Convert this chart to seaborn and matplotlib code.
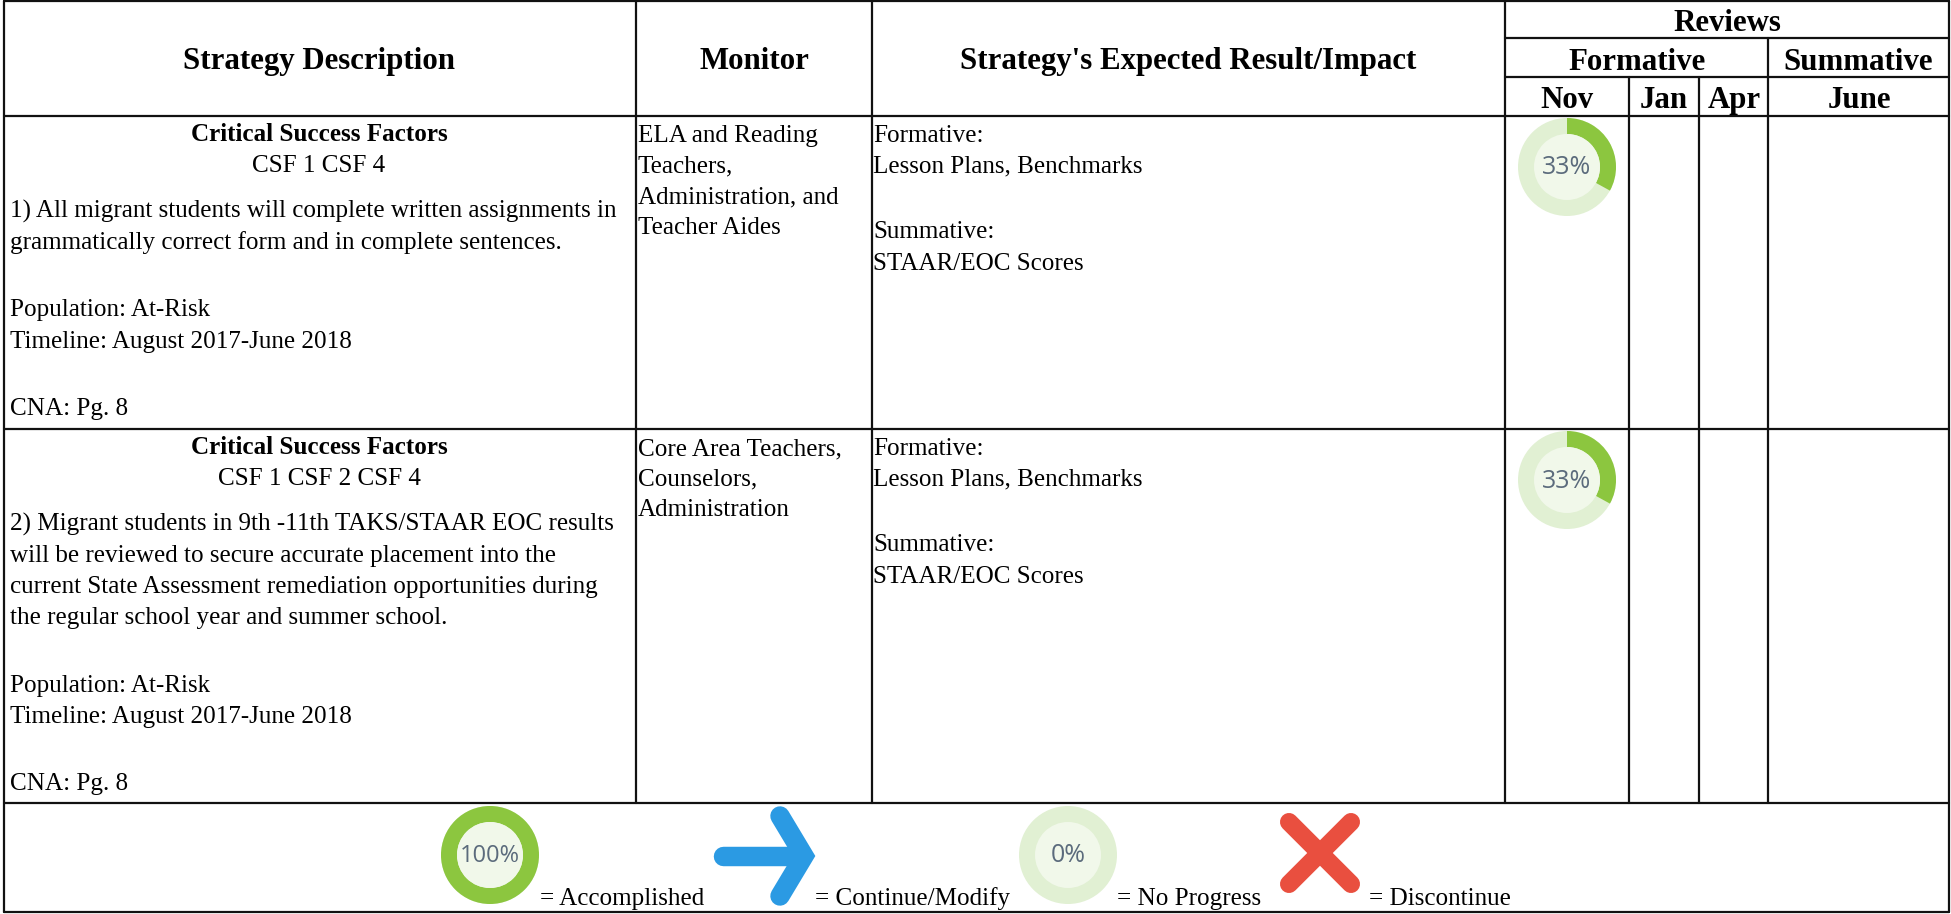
import pandas as pd
import matplotlib
matplotlib.use('Agg')
import matplotlib.pyplot as plt
from matplotlib.patches import Wedge, Circle
import seaborn as sns

# table structure, in pixels of the 1951x914 page
col_edges = [4, 636, 872, 1505, 1629, 1699, 1768, 1949]
row_edges = [1, 38, 77, 116, 429, 803, 912]

headers = ['Strategy Description', 'Monitor', "Strategy's Expected Result/Impact",
           'Reviews', 'Formative', 'Summative', 'Nov', 'Jan', 'Apr', 'June']
header_x = [319, 754, 1188, 1727, 1637, 1858, 1567, 1664, 1734, 1859]
header_y = [69, 69, 69, 31, 70, 70, 108, 108, 108, 108]

row_offset = [0, 313]
bold_line = 'Critical Success Factors'
csf_lines = ['CSF 1 CSF 4', 'CSF 1 CSF 2 CSF 4']
desc_lines = [
    ['1) All migrant students will complete written assignments in',
     'grammatically correct form and in complete sentences.'],
    ['2) Migrant students in 9th -11th TAKS/STAAR EOC results',
     'will be reviewed to secure accurate placement into the',
     'current State Assessment remediation opportunities during',
     'the regular school year and summer school.'],
]
monitor_lines = [
    ['ELA and Reading', 'Teachers,', 'Administration, and', 'Teacher Aides'],
    ['Core Area Teachers,', 'Counselors,', 'Administration'],
]
monitor_y = [142, 172, 203, 234]
impact_lines = ['Formative:', 'Lesson Plans, Benchmarks', 'Summative:', 'STAAR/EOC Scores']
impact_y = [142, 172, 238, 270]
foot_lines = ['Population: At-Risk', 'Timeline: August 2017-June 2018', 'CNA: Pg. 8']
foot_y = [[316, 348, 415], [692, 723, 790]]

progress = [33, 33]
legend_pct = [100, 0]
legend_labels = ['= Accomplished', '= Continue/Modify', '= No Progress', '= Discontinue']
legend_label_x = [540, 815, 1117, 1369]

GREEN = '#8cc63f'
PALE = '#e1f0d3'
INNER = '#f1f8ea'
BLUE = '#2b9ae3'
RED = '#e94f3f'

sns.set_theme(style='white')
plt.rcParams['font.family'] = ['Liberation Serif', 'DejaVu Serif']

fig = plt.figure(figsize=(19.51, 9.14), dpi=100)
ax = fig.add_axes([0, 0, 1, 1])

# grid lines
segs = []
def seg(x0, x1, y0, y1):
    n = len(segs) // 2
    segs.append((n, x0, y0))
    segs.append((n, x1, y1))

for y in [row_edges[0], row_edges[3], row_edges[4], row_edges[5], row_edges[6]]:
    seg(col_edges[0], col_edges[-1], y, y)
seg(col_edges[3], col_edges[-1], row_edges[1], row_edges[1])
seg(col_edges[3], col_edges[-1], row_edges[2], row_edges[2])
for x in [col_edges[0], col_edges[-1]]:
    seg(x, x, row_edges[0], row_edges[-1])
for x in col_edges[1:4]:
    seg(x, x, row_edges[0], row_edges[5])
for x in [col_edges[4], col_edges[5]]:
    seg(x, x, row_edges[2], row_edges[5])
seg(col_edges[6], col_edges[6], row_edges[1], row_edges[5])
grid = pd.DataFrame(segs, columns=['seg', 'x', 'y'])
sns.lineplot(data=grid, x='x', y='y', units='seg', estimator=None, sort=False,
             color='#111111', lw=1.6, ax=ax, legend=False)


def donut(cx, cy, pct):
    ax.add_patch(Circle((cx, cy), 49, fc=PALE, ec='none', zorder=3))
    if pct > 0:
        # y axis is inverted, so wedge angles run clockwise from the right
        ax.add_patch(Wedge((cx, cy), 49, -90, -90 + 3.6 * pct, width=16, fc=GREEN, ec='none', zorder=4))
    ax.add_patch(Circle((cx, cy), 33, fc=INNER, ec='none', zorder=5))
    ax.text(cx, cy + 1, f'{pct}%', ha='center', va='center', color='#5b6b7c', zorder=6,
            family='Open Sans', fontsize=17 if pct == 100 else 18)


# header text
for txt, x, y in zip(headers, header_x, header_y):
    ax.text(x, y, txt, ha='center', va='baseline', fontweight='bold', fontsize=22.2, color='black')

BODY = 18.1
left_x = 10
for i, off in enumerate(row_offset):
    ax.text(319, 141 + off, bold_line, ha='center', va='baseline', fontweight='bold', fontsize=BODY, color='black')
    ax.text(319, 172 + off, csf_lines[i], ha='center', va='baseline', fontsize=BODY, color='black')
    y = 218 + off
    for line in desc_lines[i]:
        ax.text(left_x, y, line, va='baseline', fontsize=BODY, color='black')
        y += 31
    for line, y in zip(foot_lines, foot_y[i]):
        ax.text(left_x, y, line, va='baseline', fontsize=BODY, color='black')
    for line, y in zip(monitor_lines[i], monitor_y):
        ax.text(638, y + off, line, va='baseline', fontsize=BODY, color='black')
    for line, y in zip(impact_lines, impact_y):
        ax.text(873, y + off, line, va='baseline', fontsize=BODY, color='black')
    donut(1567, 167 + off, progress[i])

# legend row
donut(490, 855, legend_pct[0])
donut(1068, 855, legend_pct[1])

shapes = pd.DataFrame({
    'part': ['shaft', 'shaft', 'head', 'head', 'head'],
    'x': [723, 802, 780, 804, 780],
    'y': [856, 856, 816, 856, 896],
})
sns.lineplot(data=shapes, x='x', y='y', units='part', estimator=None, sort=False, color=BLUE,
             lw=14, solid_capstyle='round', solid_joinstyle='miter', ax=ax, legend=False, zorder=3)
cross = pd.DataFrame({
    'part': ['a', 'a', 'b', 'b'],
    'x': [1289, 1351, 1351, 1289],
    'y': [822, 884, 822, 884],
})
sns.lineplot(data=cross, x='x', y='y', units='part', estimator=None, sort=False, color=RED,
             lw=13, solid_capstyle='round', ax=ax, legend=False, zorder=3)

for txt, x in zip(legend_labels, legend_label_x):
    ax.text(x, 905, txt, va='baseline', fontsize=BODY, color='black')

ax.set_xlim(0, 1951)
ax.set_ylim(914, 0)
ax.set_xlabel('')
ax.set_ylabel('')
ax.set_xticks([])
ax.set_yticks([])
sns.despine(ax=ax, left=True, bottom=True)

fig.savefig('out.png', dpi=100)
